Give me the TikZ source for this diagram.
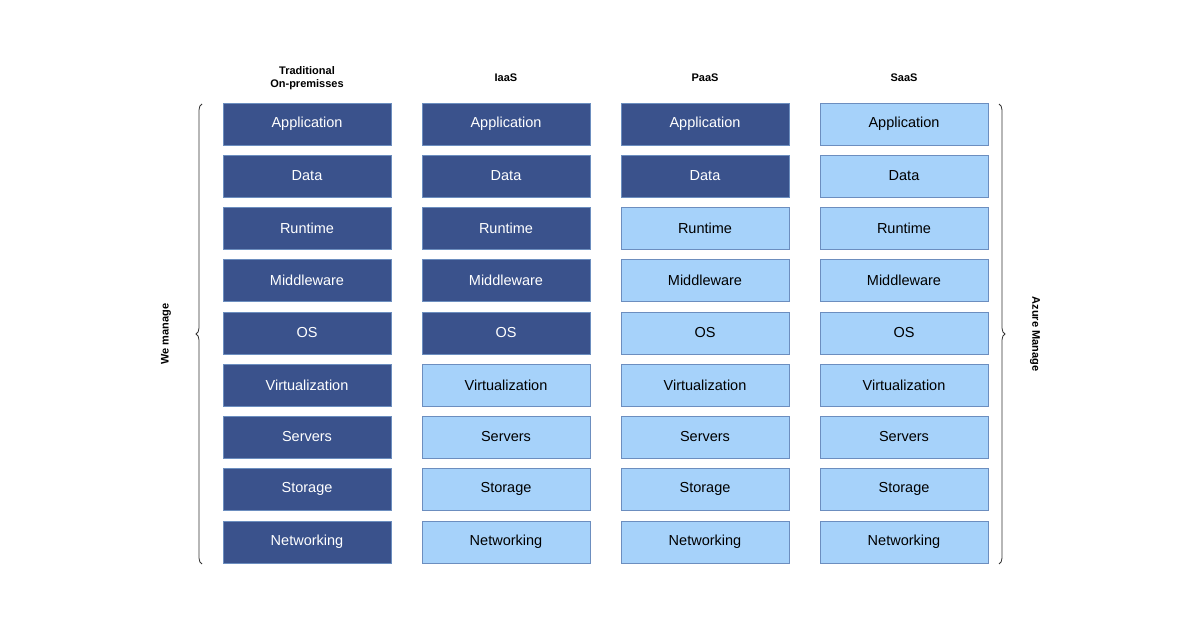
\documentclass[tikz,border=0pt]{standalone}
\usepackage{fontspec}
\setmainfont{Liberation Sans}
\usetikzlibrary{decorations.pathreplacing}
\definecolor{dk}{HTML}{3A528C}
\definecolor{lt}{HTML}{A6D2FA}
\definecolor{bd}{HTML}{6C8EBF}
\begin{document}
\begin{tikzpicture}[x=1pt,y=-1pt,
 cell/.style={draw=bd,line width=0.8pt,minimum width=168pt,minimum height=42pt,inner sep=0pt,font=\fontsize{14.5}{16}\selectfont},
 dkc/.style={cell,fill=dk,text=white},
 ltc/.style={cell,fill=lt,text=black},
 hd/.style={font=\bfseries\fontsize{11}{13}\selectfont,align=center},
 br/.style={draw=black!80,line width=0.8pt,decorate,decoration={brace,amplitude=6pt}}]
\useasboundingbox (0,0) rectangle (1200,628);
\def\names{Application,Data,Runtime,Middleware,OS,Virtualization,Servers,Storage,Networking}
\foreach \c/\x/\n in {1/307/9,2/506/5,3/705/2,4/904/0}{
 \foreach \t [count=\r] in \names{
  \pgfmathtruncatemacro{\y}{124+52.25*(\r-1)}
  \ifnum\r>\n \node[ltc] (c\c r\r) at (\x,\y) {\t};
  \else \node[dkc] (c\c r\r) at (\x,\y) {\t};\fi
 }}
\node[hd] (h1) at (307,78) {Traditional\\On-premisses};
\node[hd] (h2) at (506,78) {IaaS};
\node[hd] (h3) at (705,78) {PaaS};
\node[hd] (h4) at (904,78) {SaaS};
\coordinate (lb1) at (202,564); \coordinate (lb2) at (202,104);
\draw[br] (lb1) -- (lb2);
\coordinate (rb1) at (999,104); \coordinate (rb2) at (999,564);
\draw[br] (rb1) -- (rb2);
\node[hd,rotate=90] (wm) at (166,334) {We manage};
\node[hd,rotate=-90] (am) at (1035,334) {Azure Manage};
\end{tikzpicture}
\end{document}
